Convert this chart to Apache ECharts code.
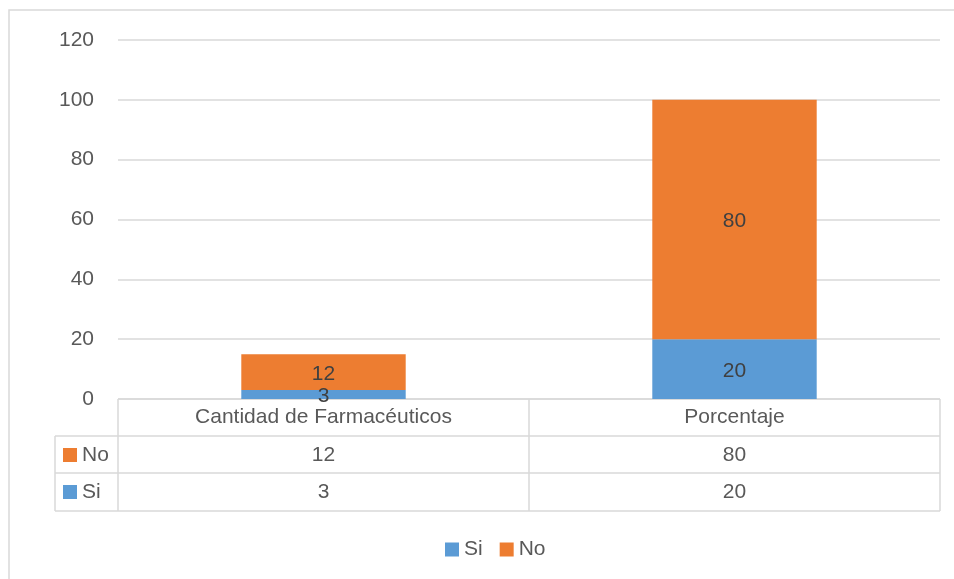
<!DOCTYPE html>
<html>
<head>
<meta charset="utf-8">
<script src="https://cdn.jsdelivr.net/npm/echarts@6/dist/echarts.min.js"></script>
<style>
  html, body { margin: 0; padding: 0; background: #fff; }
  #chart { width: 954px; height: 579px; }
</style>
</head>
<body>
<div id="chart"></div>
<script>
const categories = ["Cantidad de Farmacéuticos", "Porcentaje"];
const siValues = [3, 20];
const noValues = [12, 80];
const seriesNames = ["Si", "No"];
const yTicks = [0, 20, 40, 60, 80, 100, 120];

const BLUE = "#5b9bd5";
const ORANGE = "#ed7d31";
const LINE = "#d9d9d9";
const TEXT = "#595959";
const FONT = "Liberation Sans";
const FS = 21;

const chart = echarts.init(document.getElementById("chart"), null, { renderer: "canvas" });

// table rows are extra category axes under the plot, so cells line up with the bars
function rowAxis(data, margin) {
  return {
    type: "category",
    data: data.map(String),
    position: "bottom",
    axisLine: { show: false },
    axisTick: { show: false },
    splitLine: { show: false },
    axisLabel: { margin, verticalAlign: "middle", fontSize: FS, color: TEXT, fontFamily: FONT },
  };
}

const tableLines = [
  [118, 399, 940, 399],
  [55, 436, 940, 436],
  [55, 473, 940, 473],
  [55, 511, 940, 511],
  [55, 436, 55, 511],
  [118, 399, 118, 511],
  [529, 399, 529, 511],
  [940, 399, 940, 511],
].map(([x1, y1, x2, y2]) => ({
  type: "line",
  shape: { x1, y1, x2, y2 },
  style: { stroke: LINE, lineWidth: 1.5 },
}));

const keyRows = [
  { name: seriesNames[1], color: ORANGE, y: 455 },
  { name: seriesNames[0], color: BLUE, y: 492 },
];
const keys = [];
keyRows.forEach((k) => {
  keys.push({ type: "rect", shape: { x: 63, y: k.y - 7, width: 14, height: 14 }, style: { fill: k.color } });
  keys.push({
    type: "text",
    x: 82,
    y: k.y,
    style: { text: k.name, fill: TEXT, fontSize: FS, fontFamily: FONT, verticalAlign: "middle" },
  });
});

chart.setOption({
  animation: false,
  textStyle: { fontFamily: FONT },
  grid: { left: 118, right: 14, top: 40, bottom: 180 },
  legend: {
    data: seriesNames,
    bottom: 14,
    left: 440,
    itemWidth: 14,
    itemHeight: 14,
    itemGap: 17,
    icon: "rect",
    textStyle: { fontSize: FS, color: TEXT, fontFamily: FONT },
  },
  xAxis: [
    {
      type: "category",
      data: categories,
      axisLine: { show: false },
      axisTick: { show: false },
      axisLabel: { margin: 18, verticalAlign: "middle", fontSize: FS, color: TEXT, fontFamily: FONT },
    },
    rowAxis(noValues, 56),
    rowAxis(siValues, 93),
  ],
  yAxis: {
    type: "value",
    min: yTicks[0],
    max: yTicks[yTicks.length - 1],
    interval: 20,
    axisLine: { show: false },
    axisTick: { show: false },
    axisLabel: { margin: 24, fontSize: FS, color: TEXT, fontFamily: FONT },
    splitLine: { lineStyle: { color: LINE, width: 1.5 } },
  },
  series: [
    {
      name: seriesNames[0],
      type: "bar",
      stack: "total",
      data: siValues,
      barWidth: "40%",
      itemStyle: { color: BLUE },
      label: { show: true, position: "inside", offset: [0, 2], fontSize: FS, color: "#404040", fontFamily: FONT },
    },
    {
      name: seriesNames[1],
      type: "bar",
      stack: "total",
      data: noValues,
      barWidth: "40%",
      itemStyle: { color: ORANGE },
      label: { show: true, position: "inside", offset: [0, 2], fontSize: FS, color: "#404040", fontFamily: FONT },
    },
  ],
  graphic: [
    {
      type: "rect",
      shape: { x: 9, y: 10, width: 1000, height: 700 },
      style: { fill: "none", stroke: LINE, lineWidth: 1.5 },
      silent: true,
    },
    ...tableLines,
    ...keys,
  ],
});
</script>
</body>
</html>
